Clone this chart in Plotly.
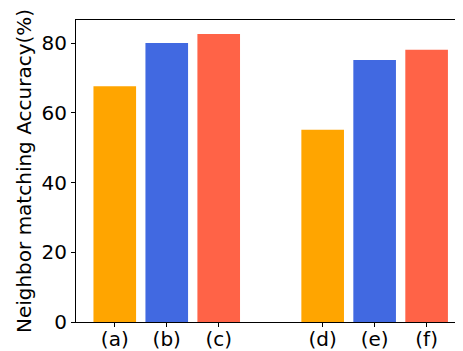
import plotly.graph_objects as go

categories = ["(a)", "(b)", "(c)", "(d)", "(e)", "(f)"]
positions = [0, 1, 2, 4, 5, 6]
values = [67.6, 80.0, 82.6, 55.1, 75.1, 78.1]
colors = ["#FFA500", "#4169E1", "#FF6347", "#FFA500", "#4169E1", "#FF6347"]
yticks = [0, 20, 40, 60, 80]

fig = go.Figure()
fig.add_trace(go.Bar(
    x=positions, y=values, width=0.82,
    marker=dict(color=colors, line=dict(width=0)),
    showlegend=False,
))

font = dict(family="DejaVu Sans", size=20, color="black")
fig.update_layout(
    width=455, height=343,
    margin=dict(l=68, r=0, t=12, b=29),
    plot_bgcolor="white", paper_bgcolor="white",
    font=font,
    xaxis=dict(
        range=[-0.746, 6.70], automargin=False,
        tickmode="array", tickvals=positions, ticktext=categories,
        showline=True, linecolor="black", linewidth=1, mirror=True,
        ticks="outside", ticklen=4, tickcolor="black", tickwidth=1,
        ticklabelstandoff=-5,
        showgrid=False, zeroline=False, tickfont=font,
    ),
    yaxis=dict(
        range=[0, 86.6], automargin=False,
        tickmode="array", tickvals=yticks,
        showline=True, linecolor="black", linewidth=1,
        ticks="outside", ticklen=4, tickcolor="black", tickwidth=1,
        showgrid=False, zeroline=False, tickfont=font,
        title=dict(text="Neighbor matching Accuracy(%)", font=font, standoff=4),
    ),
)
fig.write_html("out.html")
